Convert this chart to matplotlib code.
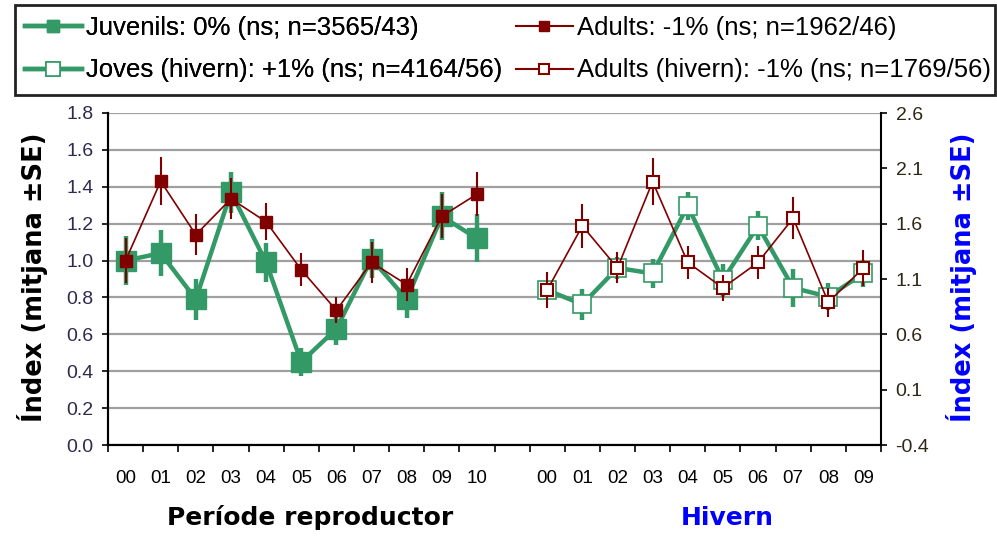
import matplotlib
matplotlib.use('Agg')
import matplotlib.pyplot as plt
from matplotlib.lines import Line2D
from matplotlib.patches import Rectangle
from matplotlib import font_manager as fm
import numpy as np

# ---------------- data ----------------
breed_years = ['00', '01', '02', '03', '04', '05', '06', '07', '08', '09', '10']
winter_years = ['00', '01', '02', '03', '04', '05', '06', '07', '08', '09']

juv = [1.00, 1.04, 0.79, 1.37, 0.99, 0.45, 0.63, 1.01, 0.79, 1.24, 1.12]
juv_se = [0.135, 0.125, 0.11, 0.11, 0.105, 0.075, 0.09, 0.105, 0.10, 0.13, 0.13]
adu = [1.00, 1.43, 1.14, 1.335, 1.21, 0.95, 0.73, 0.99, 0.87, 1.24, 1.36]
adu_se = [0.12, 0.13, 0.11, 0.11, 0.10, 0.09, 0.07, 0.11, 0.09, 0.12, 0.12]

jov_w = [1.00, 0.87, 1.20, 1.15, 1.76, 1.09, 1.58, 1.02, 0.94, 1.15]
jov_w_se = [0.07, 0.14, 0.10, 0.13, 0.13, 0.15, 0.13, 0.17, 0.12, 0.12]
adu_w = [1.00, 1.58, 1.20, 1.98, 1.25, 1.02, 1.25, 1.65, 0.89, 1.20]
adu_w_se = [0.16, 0.20, 0.14, 0.21, 0.15, 0.12, 0.15, 0.19, 0.13, 0.16]

labels = ['Juvenils: 0% (ns; n=3565/43)',
          'Joves (hivern): +1% (ns; n=4164/56)',
          'Adults: -1% (ns; n=1962/46)',
          'Adults (hivern): -1% (ns; n=1769/56)']

left_ticks = [0.0, 0.2, 0.4, 0.6, 0.8, 1.0, 1.2, 1.4, 1.6, 1.8]
right_ticks = [-0.4, 0.1, 0.6, 1.1, 1.6, 2.1, 2.6]

xlabel_breed = 'Període reproductor'
xlabel_winter = 'Hivern'
ylabel = 'Índex (mitjana ±SE)'

# ---------------- style ----------------
GREEN = '#339966'
RED = '#800000'
BLUE = '#0000ff'

names = {f.name for f in fm.fontManager.ttflist}
NARROW = 'Liberation Sans Narrow' if 'Liberation Sans Narrow' in names else 'Liberation Sans'
plt.rcParams['font.family'] = ['Liberation Sans', 'DejaVu Sans']

W, H = 997, 536
fig = plt.figure(figsize=(W/100, H/100), dpi=100)
ax = fig.add_axes([108/W, 1-445/H, (881-108)/W, (445-113)/H])
ax2 = ax.twinx()

n_b = len(breed_years)
n_w = len(winter_years)
xb = np.arange(n_b)
xw = np.arange(n_w) + n_b + 1
ncat = n_b + 1 + n_w

# breeding (left axis)
ax.errorbar(xb, juv, yerr=juv_se, color=GREEN, lw=3.2, elinewidth=3.2, capsize=0,
            marker='s', ms=14, mfc=GREEN, mec=GREEN, zorder=3)
ax.errorbar(xb, adu, yerr=adu_se, color=RED, lw=1.2, elinewidth=1.5, capsize=0,
            marker='s', ms=8.5, mfc=RED, mec=RED, zorder=4)

# winter (right axis)
ax2.errorbar(xw, jov_w, yerr=jov_w_se, color=GREEN, lw=3.2, elinewidth=3.2, capsize=0,
             marker='s', ms=13, mfc='white', mec=GREEN, mew=1.2, zorder=3)
ax2.errorbar(xw, adu_w, yerr=adu_w_se, color=RED, lw=1.2, elinewidth=1.5, capsize=0,
             marker='s', ms=8, mfc='white', mec=RED, mew=1.5, zorder=4)

ax.set_ylim(0, 1.8)
ax2.set_ylim(-0.4, 2.6)
ax.set_xlim(-0.5, ncat - 0.5)

ax.set_yticks(left_ticks)
ax.set_yticklabels([f'{v:.1f}' for v in left_ticks], fontsize=14, color='#2e2a50')
ax2.set_yticks(right_ticks)
ax2.set_yticklabels([f'{v:.1f}' for v in right_ticks], fontsize=14, color='#2e2818')

ax.yaxis.grid(True, color='#a0a0a0', lw=1.6)
ax.set_axisbelow(True)

ax.set_xticks(np.arange(ncat + 1) - 0.5)
ax.set_xticklabels([])
ax.set_xticks(list(xb) + list(xw), minor=True)
ax.set_xticklabels(breed_years + winter_years, minor=True, fontsize=13.5,
                   fontfamily=NARROW)
ax.tick_params(axis='x', which='major', length=5, width=1.2, direction='out')
ax.tick_params(axis='x', which='minor', length=0, pad=18)
ax.tick_params(axis='y', length=4.5, width=1.2, direction='out', pad=6)
ax2.tick_params(axis='y', length=4.5, width=1.2, direction='out', pad=6)

for a in (ax, ax2):
    a.spines['top'].set_visible(False)
    a.spines['left'].set_linewidth(1.5)
    a.spines['bottom'].set_linewidth(1.5)
    a.spines['right'].set_linewidth(1.5)
ax.spines['right'].set_visible(False)

fig.text(32/W, 1-277/H, ylabel, rotation=90, ha='center', va='center',
         fontsize=18.5, fontweight='bold', family='DejaVu Sans', color='black')
fig.text(961/W, 1-277/H, ylabel, rotation=90, ha='center', va='center',
         fontsize=18.5, fontweight='bold', family='DejaVu Sans', color=BLUE)
fig.text(310/W, 1-518/H, xlabel_breed, ha='center', va='center',
         fontsize=18, fontweight='bold', family='DejaVu Sans', color='black')
fig.text(727/W, 1-518/H, xlabel_winter, ha='center', va='center',
         fontsize=18, fontweight='bold', family='DejaVu Sans', color=BLUE)

h_juv = Line2D([], [], color=GREEN, lw=3.2, marker='s', ms=9, mfc=GREEN, mec=GREEN)
h_jov = Line2D([], [], color=GREEN, lw=3.2, marker='s', ms=10, mfc='white', mec=GREEN, mew=1.2)
h_adu = Line2D([], [], color=RED, lw=1.5, marker='s', ms=7, mfc=RED, mec=RED)
h_aduw = Line2D([], [], color=RED, lw=1.5, marker='s', ms=7, mfc='white', mec=RED, mew=1.5)

common = dict(loc='upper left', frameon=False, borderaxespad=0, borderpad=0,
              handlelength=2.2, handletextpad=0.17, labelspacing=0.72,
              prop={'family': NARROW, 'size': 18.5})
leg1 = fig.legend([h_juv, h_jov], labels[:2], bbox_to_anchor=(25/W, 1-16/H), **common)
leg2 = fig.legend([h_adu, h_aduw], labels[2:], bbox_to_anchor=(516/W, 1-16/H), **common)
fig.add_artist(leg1)

fig.patches.append(Rectangle((15/W, 1-95/H), (995-15)/W, 90/H, transform=fig.transFigure,
                             fill=False, edgecolor='#222222', lw=2))

fig.savefig('out.png', dpi=100)
